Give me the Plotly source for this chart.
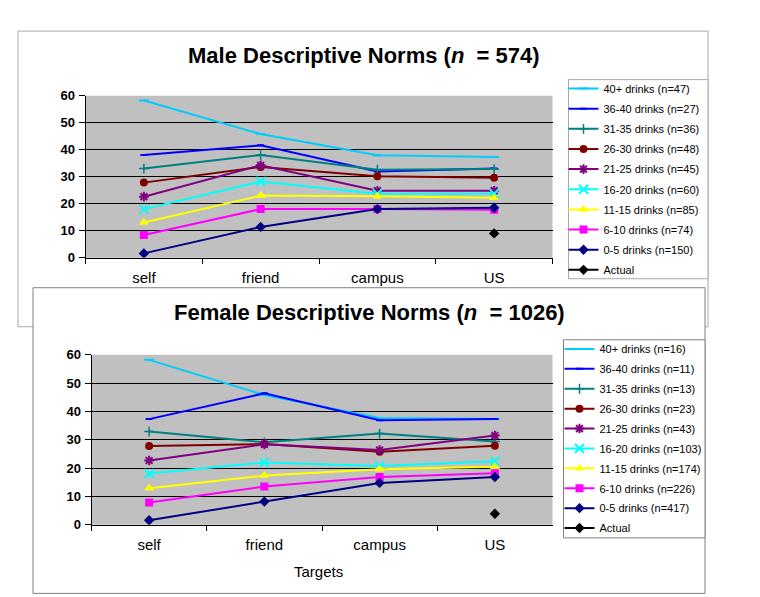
import plotly.graph_objects as go

W, H = 760, 597
targets = ["self", "friend", "campus", "US"]

series_names = ["40+ drinks", "36-40 drinks", "31-35 drinks", "26-30 drinks", "21-25 drinks",
                "16-20 drinks", "11-15 drinks", "6-10 drinks", "0-5 drinks"]
male_n = [47, 27, 36, 48, 45, 60, 85, 74, 150]
female_n = [16, 11, 13, 23, 43, 103, 174, 226, 417]

male_values = [
    [58.2, 45.8, 37.9, 37.3],
    [38.0, 41.6, 31.9, 33.0],
    [33.0, 38.0, 32.6, 32.8],
    [27.8, 33.6, 30.2, 29.6],
    [22.6, 34.2, 24.8, 24.8],
    [18.0, 28.2, 23.7, 23.7],
    [13.0, 23.0, 22.8, 22.2],
    [8.4, 18.0, 18.0, 17.8],
    [1.6, 11.4, 18.0, 18.5],
]
male_actual = [None, None, None, 9.0]

female_values = [
    [58.2, 45.8, 37.7, 37.3],
    [37.3, 46.4, 36.9, 37.3],
    [32.9, 29.1, 32.2, 29.4],
    [27.8, 28.5, 25.8, 27.9],
    [22.7, 28.4, 26.4, 31.5],
    [18.1, 22.0, 20.8, 22.4],
    [12.9, 17.4, 19.6, 20.5],
    [7.9, 13.5, 16.9, 18.2],
    [1.6, 8.2, 14.8, 16.9],
]
female_actual = [None, None, None, 3.9]

colors = ["#00CCFF", "#0000FF", "#008080", "#800000", "#800080", "#00FFFF", "#FFFF00", "#FF00FF", "#000080"]
symbols = ["line-ew", "line-ew", "cross-thin", "circle", "asterisk-open", "x-thin-open",
           "triangle-up", "square", "diamond"]
sizes = [7, 5, 7, 8, 8, 9, 9, 8, 8]
mline = [2, 2, 1.5, 0, 2, 2, 0, 0, 0]

FONT = "Liberation Sans, Arial, sans-serif"

# page-to-layout compensation (measured rendering offset of the page)
XOFF = 7.5
YOFF, YSCALE = 14.4, 0.9744


def px(x):
    return (x - XOFF) / W


def py(y):
    return 1 - ((y - YOFF) / YSCALE) / H


fig = go.Figure()


def add_panel(values, ns, actual, xa, ya, legend):
    for i, name in enumerate(series_names):
        fig.add_trace(go.Scatter(
            x=targets, y=values[i], mode="lines+markers",
            name=f"{name} (n={ns[i]})",
            line=dict(color=colors[i], width=2),
            marker=dict(symbol=symbols[i], size=sizes[i], color=colors[i],
                        line=dict(color=colors[i], width=mline[i])),
            xaxis=xa, yaxis=ya, legend=legend, legendgroup=f"{legend}{i}",
            hoverinfo="skip",
        ))
    fig.add_trace(go.Scatter(
        x=targets, y=actual, mode="lines+markers", name="Actual",
        line=dict(color="black", width=2),
        marker=dict(symbol="diamond", size=8, color="black"),
        xaxis=xa, yaxis=ya, legend=legend, legendgroup=f"{legend}act",
        hoverinfo="skip",
    ))


add_panel(male_values, male_n, male_actual, "x", "y", "legend")
add_panel(female_values, female_n, female_actual, "x2", "y2", "legend2")

shapes = [
    # male panel box
    dict(type="rect", xref="paper", yref="paper", x0=px(17.5), x1=px(707.5), y0=py(326), y1=py(30.5),
         line=dict(color="#A8A8A8", width=1), fillcolor="white", layer="below"),
    # male plot area
    dict(type="rect", xref="x domain", yref="y domain", x0=0, x1=1, y0=0, y1=1,
         line=dict(width=0), fillcolor="#C0C0C0", layer="below"),
    # male legend box
    dict(type="rect", xref="paper", yref="paper", x0=px(568), x1=px(707.5), y0=py(278), y1=py(79),
         line=dict(color="#A8A8A8", width=1), fillcolor="white", layer="below"),
    # female panel box
    dict(type="rect", xref="paper", yref="paper", x0=px(32.5), x1=px(704.5), y0=py(592.5), y1=py(287),
         line=dict(color="#808080", width=1), fillcolor="white", layer="below"),
    # female plot area
    dict(type="rect", xref="x2 domain", yref="y2 domain", x0=0, x1=1, y0=0, y1=1,
         line=dict(width=0), fillcolor="#C0C0C0", layer="below"),
    # female legend box
    dict(type="rect", xref="paper", yref="paper", x0=px(563), x1=px(704.5), y0=py(537), y1=py(339),
         line=dict(color="#808080", width=1), fillcolor="white", layer="below"),
]

xcommon = dict(type="category", range=[-0.5, 3.5], showline=True, linecolor="black", linewidth=1,
               ticks="outside", tickson="boundaries", ticklen=5, tickcolor="black",
               showgrid=False, zeroline=False, fixedrange=True,
               tickfont=dict(family=FONT, size=15, color="black"), ticklabelstandoff=6)
ycommon = dict(range=[0, 60], dtick=10, showline=True, linecolor="black", linewidth=1,
               ticks="outside", ticklen=6, tickcolor="black",
               showgrid=True, gridcolor="black", gridwidth=1, zeroline=False, fixedrange=True,
               tickfont=dict(family=FONT, size=13, color="black", weight="bold"), ticklabelstandoff=1)

legcommon = dict(bgcolor="rgba(0,0,0,0)", borderwidth=0, xanchor="left", yanchor="top",
                 font=dict(family=FONT, size=11, color="black"),
                 itemclick=False, itemdoubleclick=False)

fig.update_layout(
    width=W, height=H, margin=dict(l=0, r=0, t=0, b=0),
    paper_bgcolor="white", plot_bgcolor="rgba(0,0,0,0)",
    showlegend=True,
    xaxis=dict(domain=[px(85), px(552)], anchor="y", **xcommon),
    yaxis=dict(domain=[py(257), py(95)], anchor="x", **ycommon),
    xaxis2=dict(domain=[px(91), px(552)], anchor="y2", **xcommon),
    yaxis2=dict(domain=[py(524), py(354)], anchor="x2", **ycommon),
    legend=dict(x=px(603) - 40 / W, y=1 - 60.5 / H, tracegroupgap=1.15, **legcommon),
    legend2=dict(x=px(599) - 40 / W, y=1 - 327.7 / H, tracegroupgap=0.9, **legcommon),
    shapes=shapes,
    annotations=[
        dict(text="<b>Male Descriptive Norms (<i>n</i>&nbsp; = 574)</b>", x=px(363), y=py(55),
             xref="paper", yref="paper", showarrow=False, xanchor="center", yanchor="middle",
             font=dict(family=FONT, size=22, color="black")),
        dict(text="<b>Female Descriptive Norms (<i>n</i>&nbsp; = 1026)</b>", x=px(369), y=py(312),
             xref="paper", yref="paper", showarrow=False, xanchor="center", yanchor="middle",
             font=dict(family=FONT, size=22, color="black")),
        dict(text="Targets", x=px(318), y=py(571), xref="paper", yref="paper", showarrow=False,
             xanchor="center", yanchor="middle", font=dict(family=FONT, size=15, color="black")),
    ],
)

fig.write_html("out.html")
